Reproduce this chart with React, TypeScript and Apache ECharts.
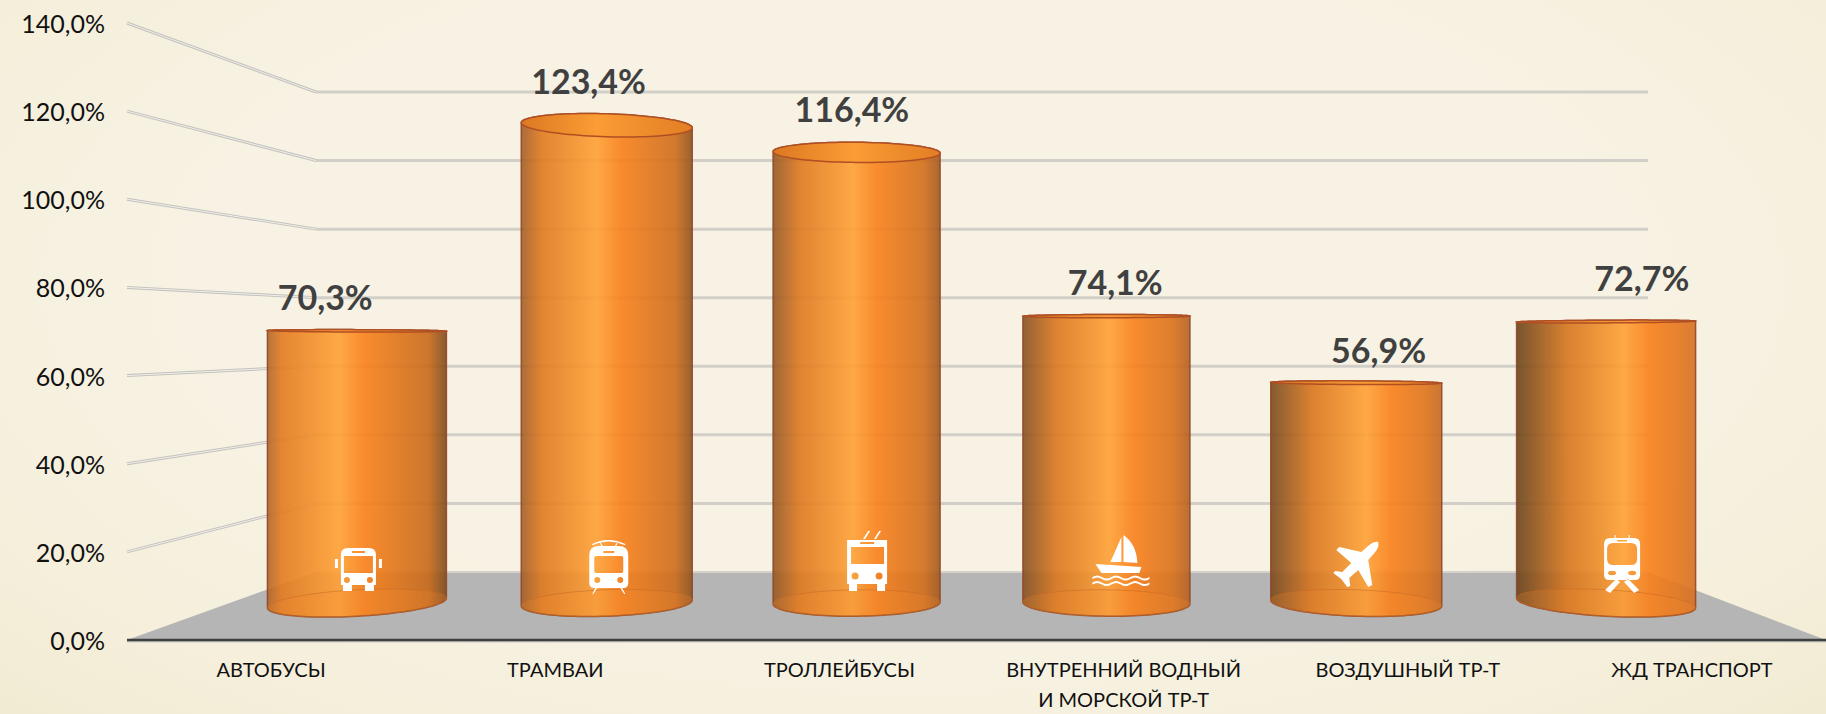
import React, { useEffect, useRef } from "react";
import * as echarts from "echarts";

const categories = [
  "АВТОБУСЫ",
  "ТРАМВАИ",
  "ТРОЛЛЕЙБУСЫ",
  "ВНУТРЕННИЙ ВОДНЫЙ\nИ МОРСКОЙ ТР-Т",
  "ВОЗДУШНЫЙ ТР-Т",
  "ЖД ТРАНСПОРТ",
];
const values = [70.3, 123.4, 116.4, 74.1, 56.9, 72.7];
const wallTicks = [20, 40, 60, 80, 100, 120, 140];

const FONT = "Lato, 'Open Sans', sans-serif";
const fmt = (v: number) => v.toFixed(1).replace(".", ",") + "%";

// --- icon path helpers (pixel units, relative to the icon's own top-left) ---
const rect = (x: number, y: number, w: number, h: number) => `M${x} ${y}L${x + w} ${y}L${x + w} ${y + h}L${x} ${y + h}Z`;
const hole = (x: number, y: number, w: number, h: number) => `M${x} ${y}L${x} ${y + h}L${x + w} ${y + h}L${x + w} ${y}Z`;
const circHole = (cx: number, cy: number, rx: number, ry = rx) =>
  `M${cx - rx} ${cy}A${rx} ${ry} 0 0 0 ${cx + rx} ${cy}A${rx} ${ry} 0 0 0 ${cx - rx} ${cy}Z`;
const roundHole = (x: number, y: number, w: number, h: number, r: number) =>
  `M${x + r} ${y}Q${x} ${y} ${x} ${y + r}L${x} ${y + h - r}Q${x} ${y + h} ${x + r} ${y + h}L${x + w - r} ${y + h}Q${x + w} ${y + h} ${x + w} ${y + h - r}L${x + w} ${y + r}Q${x + w} ${y} ${x + w - r} ${y}Z`;
const wave = (y: number) => {
  const hp = 9.5;
  let top = `M0 ${y}`;
  let bottom = "";
  let x = 0;
  for (let i = 0; i < 6; i++) {
    const dir = i % 2 === 0 ? -3 : 3;
    top += `Q${x + hp / 2} ${y + dir} ${x + hp} ${y}`;
    x += hp;
  }
  bottom = `L${x} ${y + 2}`;
  for (let i = 5; i >= 0; i--) {
    const dir = i % 2 === 0 ? -3 : 3;
    bottom += `Q${x - hp / 2} ${y + 2 + dir} ${x - hp} ${y + 2}`;
    x -= hp;
  }
  return top + bottom + "Z";
};

const iconBus =
  "M6 7Q6 0 13 0L34 0Q41 0 41 7L41 37L39 37L39 43L30 43L30 37L17 37L17 43L8 43L8 37L6 37Z" +
  hole(9, 8, 29, 17) + hole(17, 3, 13, 2) + circHole(12, 32, 3) + circHole(35, 32, 3) +
  rect(0, 11, 3, 9) + rect(44, 11, 3, 9);
const iconTram =
  "M0 16Q0 7 10 7L29 7Q39 7 39 16L39 44Q39 49 34 49L5 49Q0 49 0 44Z" +
  roundHole(5, 17, 29, 17, 2) + hole(14, 12, 11, 2) + circHole(8, 41, 3) + circHole(31, 41, 3) +
  "M3 5Q19 -3 36 5L36 6.2Q19 -1 3 6.2Z" +
  "M12 7L10 3L11 3L13.5 7Z" + "M27 7L29 3L28 3L25.5 7Z" +
  "M6 49L3 55L4 55L8 49Z" + "M33 49L36 55L35 55L31 49Z";
const iconTrolley =
  "M0 9L40 9L40 53L38 53L38 60L30 60L30 53L10 53L10 60L2 60L2 53L0 53Z" +
  hole(4, 16, 33, 17) + hole(13, 11, 14, 2) + circHole(8, 45, 3.5) + circHole(32, 45, 3.5) +
  "M16 8L21 0L23 0L18 8Z" + "M27 8L32 0L34 0L29 8Z";
const iconBoat =
  "M29 2L29 27L18 27Z" + "M31 0Q44 9 45 28L31 27Z" + "M3 29L49 32L47 38L9 38Z" +
  wave(42) + wave(47.5);
const iconPlane =
  "M45 1Q46 6 42 11L35 19L39 44L35 46L25 29L16 37L17 45L14 46L8 38L0 32L2 30L9 31L18 22L3 9L6 6L28 11L36 4Q41 0 45 1Z";
const iconTrain =
  "M0 9Q0 3 6 3L30 3Q36 3 36 9L36 40Q36 45 31 45L5 45Q0 45 0 40Z" +
  roundHole(3, 8, 30, 22, 6) + hole(13, 5, 10, 1.5) + circHole(8, 38, 4, 2.2) + circHole(28, 38, 4, 2.2) +
  rect(10.5, 0, 1, 3) + rect(24.5, 0, 1, 3) +
  "M12 44L16 47L6 58L1 55Z" + "M24 44L20 47L30 58L35 55Z";

const icons = [iconBus, iconTram, iconTrolley, iconBoat, iconPlane, iconTrain];
// offset of each icon's top-left from the cylinder's base centre
const iconOffsets = [[-22, -55], [-17.5, -64], [-9.5, -72], [-14, -68], [-23, -62], [-2, -68]];
// small vertical corrections of the value labels
const labelNudges = [0, 0, 0, 0, 2.5, -9];

const hex2 = (n: number) => Math.round(n).toString(16).padStart(2, "0");
const mix = (a: string, b: string, t: number) => {
  const p = (h: string, i: number) => parseInt(h.slice(i, i + 2), 16);
  const f = (i: number) => p(a, i) + (p(b, i) - p(a, i)) * t;
  return `#${hex2(f(1))}${hex2(f(3))}${hex2(f(5))}`;
};

const PERSP_CENTER = 981; // x of the vanishing axis
const EYE_VALUE = 66; // value at the eye level

// rotated ellipse arc, as line segments; from/to in radians, 0 = right end, y grows downward
const arcPath = (cx: number, cy: number, rx: number, ry: number, rot: number, from: number, to: number, start: string) => {
  const n = 48;
  let d = "";
  for (let k = 0; k <= n; k++) {
    const a = from + ((to - from) * k) / n;
    const ex = rx * Math.cos(a);
    const ey = ry * Math.sin(a);
    const x = cx + ex * Math.cos(rot) - ey * Math.sin(rot);
    const y = cy + ex * Math.sin(rot) + ey * Math.cos(rot);
    d += `${k === 0 ? start : "L"}${x.toFixed(2)} ${y.toFixed(2)}`;
  }
  return d;
};

export default function App() {
  const ref = useRef<HTMLDivElement>(null);
  useEffect(() => {
    const chart = echarts.init(ref.current!, undefined, { renderer: "svg" });

    const renderFloor = (params: any) => {
      const cs = params.coordSys;
      const yB = cs.y + cs.height;
      const yF = chart.convertToPixel({ yAxisIndex: 0 }, 0) as number;
      const fl = 127;
      const fr = 1826;
      return {
        type: "group",
        children: [
          {
            type: "polygon",
            shape: { points: [[fl, yF], [cs.x, yB], [cs.x + cs.width, yB], [fr, yF]] },
            style: { fill: "#b5b5b5" },
          },
          {
            type: "line",
            shape: { x1: cs.x, y1: yB, x2: cs.x + cs.width, y2: yB },
            style: { stroke: "#d3d1c9", lineWidth: 2 },
          },
          {
            type: "line",
            shape: { x1: fl, y1: yF + 1.5, x2: fr, y2: yF + 1.5 },
            style: { stroke: "#c9c8c2", lineWidth: 2 },
          },
          {
            type: "line",
            shape: { x1: fl, y1: yF, x2: fr, y2: yF },
            style: { stroke: "#3f3f3f", lineWidth: 2.5 },
          },
        ],
      };
    };

    const renderWall = (params: any, api: any) => {
      const v = api.value(1);
      const cs = params.coordSys;
      const yB = api.coord([0, v])[1];
      const yF = chart.convertToPixel({ yAxisIndex: 0 }, v) as number;
      const fl = 127;
      return {
        type: "group",
        children: [
          {
            type: "line",
            shape: { x1: cs.x, y1: yB, x2: cs.x + cs.width, y2: yB },
            style: { stroke: "#d2cfc8", lineWidth: 3 },
          },
          {
            type: "line",
            shape: { x1: fl, y1: yF, x2: cs.x, y2: yB },
            style: { stroke: "#c3c2bd", lineWidth: 3 },
          },
          {
            type: "line",
            shape: { x1: fl, y1: yF, x2: cs.x, y2: yB },
            style: { stroke: "#f0efea", lineWidth: 1 },
          },
        ],
      };
    };

    const renderCylinder = (params: any, api: any) => {
      const i = params.dataIndex;
      const v = api.value(1);
      const [cx, yTop] = api.coord([i, v]);
      const [, yBase] = api.coord([i, 0]);
      const dx = cx - PERSP_CENTER;
      const t = dx / 625;
      const w = 166.5 + 12.5 * t * t;
      const tilt = (val: number) => (0.016 * dx * (EYE_VALUE - val)) / EYE_VALUE;
      const semi = (val: number) => Math.max(1.2, 0.2 * Math.abs(val - EYE_VALUE));
      const dyT = tilt(v);
      const dyB = tilt(0);
      const bT = semi(v);
      const bB = semi(0);
      const rotT = Math.atan2(dyT, w);
      const rotB = Math.atan2(dyB, w);
      const rxT = Math.hypot(w, dyT) / 2;
      const rxB = Math.hypot(w, dyB) / 2;

      const PI = Math.PI;
      // upper half of the top ellipse, left to right; lower half of the base, right to left
      const topUpper = arcPath(cx, yTop, rxT, bT, rotT, PI, 2 * PI, "M");
      const topLower = arcPath(cx, yTop, rxT, bT, rotT, 0, PI, "L");
      const baseLower = arcPath(cx, yBase, rxB, bB, rotB, 0, PI, "L");
      const baseUpper = arcPath(cx, yBase, rxB, bB, rotB, PI, 2 * PI, "M");

      const leftC = mix("#b0652a", "#6a431c", (t + 1) / 2);
      const rightC = mix("#7f4a1c", "#d56f22", (t + 1) / 2);
      const peak = 0.5 + 0.1 * t;
      const bodyFill = {
        type: "linear", x: 0, y: 0, x2: 1, y2: 0,
        colorStops: [
          { offset: 0, color: leftC },
          { offset: Math.max(0.05, peak - 0.32), color: mix(leftC, "#f0801c", 0.8) },
          { offset: peak, color: "#ffa034" },
          { offset: Math.min(0.85, peak + 0.14), color: "#f9801a" },
          { offset: 0.9, color: mix("#ee7a18", rightC, 0.35) },
          { offset: 1, color: rightC },
        ],
      };
      const topFill = {
        type: "linear", x: 0, y: 0, x2: 1, y2: 0,
        colorStops: [
          { offset: 0, color: "#dc7822" },
          { offset: peak, color: "#fb9c34" },
          { offset: 1, color: "#e27e24" },
        ],
      };

      const labelY = yTop - 33.5 - bT + labelNudges[i];
      const [ix, iy] = iconOffsets[i];

      return {
        type: "group",
        children: [
          {
            type: "path",
            shape: { pathData: `${topUpper}${baseLower}Z` },
            style: { fill: bodyFill, stroke: "#8f4826", lineWidth: 1.5, opacity: 0.9 },
          },
          {
            type: "path",
            shape: { pathData: `${baseUpper}${baseLower}Z` },
            style: { fill: "#f98a2c", fillOpacity: 0.2, stroke: "#c96a24", lineWidth: 1, strokeOpacity: 0.55 },
          },
          {
            type: "path",
            shape: { pathData: `${topUpper}${topLower}Z` },
            style: { fill: topFill, stroke: "#b04e24", lineWidth: 1.5 },
          },
          {
            type: "path",
            x: cx + ix,
            y: yBase + iy,
            shape: { pathData: icons[i] },
            style: { fill: "#ffffff" },
          },
          {
            type: "text",
            x: cx + 0.054 * dx + 2,
            y: labelY,
            style: {
              text: fmt(v),
              fill: "#404040",
              font: `bold 34px ${FONT}`,
              align: "center",
              verticalAlign: "middle",
            },
          },
        ],
      };
    };

    chart.setOption({
      animation: false,
      backgroundColor: "transparent",
      grid: [
        { left: 129, width: 1705, top: 23, height: 617, outerBoundsMode: "none" },
        { left: 316, width: 1332, top: 92, height: 480, outerBoundsMode: "none" },
        { left: 232, width: 1499, top: 61, height: 542, outerBoundsMode: "none" },
      ],
      xAxis: [
        {
          gridIndex: 0,
          type: "category",
          data: categories,
          axisLine: { show: false },
          axisTick: { show: false },
          axisLabel: {
            interval: 0,
            margin: 14,
            color: "#111111",
            fontFamily: FONT,
            fontSize: 20,
            lineHeight: 30,
          },
        },
        { gridIndex: 1, type: "value", min: 0, max: 1, show: false },
        { gridIndex: 2, type: "category", data: categories, show: false },
      ],
      yAxis: [
        {
          gridIndex: 0,
          type: "value",
          min: 0,
          max: 140,
          interval: 20,
          axisLine: { show: false },
          axisTick: { show: false },
          splitLine: { show: false },
          axisLabel: {
            margin: 24,
            color: "#111111",
            fontFamily: FONT,
            fontSize: 25,
            formatter: (v: number) => fmt(v),
          },
        },
        { gridIndex: 1, type: "value", min: 0, max: 140, show: false },
        { gridIndex: 2, type: "value", min: 0, max: 140, show: false },
      ],
      series: [
        {
          type: "custom",
          xAxisIndex: 1,
          yAxisIndex: 1,
          z: 1,
          silent: true,
          clip: false,
          data: [[0, 0]],
          renderItem: renderFloor,
        },
        {
          type: "custom",
          xAxisIndex: 1,
          yAxisIndex: 1,
          z: 2,
          silent: true,
          clip: false,
          data: wallTicks.map((v) => [0, v]),
          renderItem: renderWall,
        },
        {
          type: "custom",
          xAxisIndex: 2,
          yAxisIndex: 2,
          z: 3,
          silent: true,
          clip: false,
          data: values.map((v, i) => [i, v]),
          renderItem: renderCylinder,
        },
      ],
    });
    return () => chart.dispose();
  }, []);

  return (
    <div
      style={{
        position: "absolute",
        left: 0,
        top: 0,
        width: 1826,
        height: 714,
        background: "radial-gradient(ellipse at 50% 40%, #f7f2e3 55%, #f5efdc 80%, #f2ebd3 100%)",
      }}
    >
      <div ref={ref} style={{ width: 1826, height: 714 }} />
    </div>
  );
}
